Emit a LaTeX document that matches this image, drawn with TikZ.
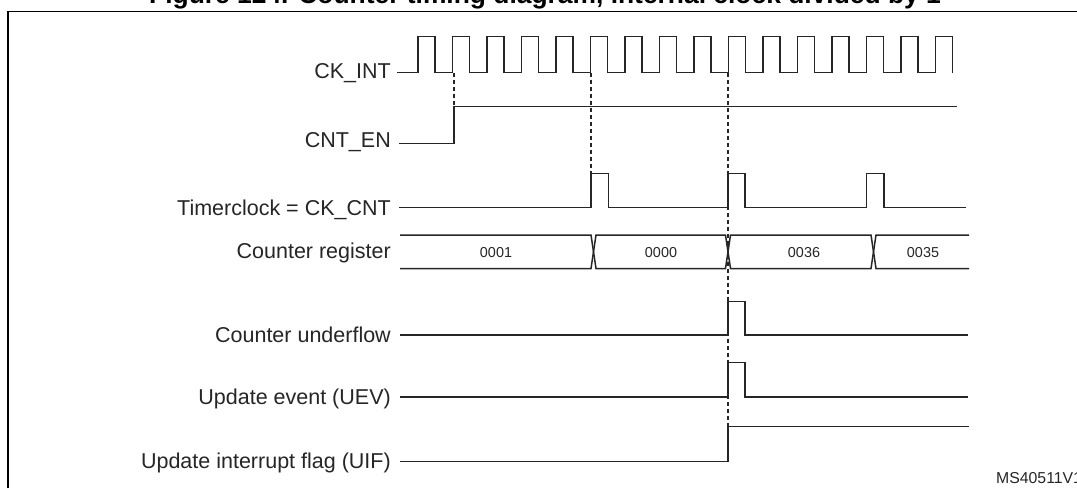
\documentclass[tikz,border=0pt]{standalone}
\usepackage{fontspec}
\setmainfont{Liberation Sans}
\begin{document}
\begin{tikzpicture}[x=1pt,y=-1pt,
  sig/.style={line width=1.5pt,line join=miter,black!85},
  guide/.style={line width=1.2pt,dash pattern=on 4.5pt off 2.5pt,black!85},
  frameline/.style={line width=1.8pt,black},
  lbl/.style={anchor=base east,inner sep=0pt,font=\fontsize{21.5}{25}\selectfont,text=black!85},
  val/.style={anchor=base,inner sep=0pt,font=\fontsize{14.4}{17}\selectfont,text=black!85},
  ttl/.style={anchor=base west,inner sep=0pt,font=\fontsize{26.4}{30}\selectfont\bfseries},
  tag/.style={anchor=base west,inner sep=0pt,font=\fontsize{15.8}{18}\selectfont,text=black!85}]
\useasboundingbox (0,0) rectangle (1077,488);
\fill[white] (0,0) rectangle (1077,488);
% frame
\draw[frameline] (7.6,488) -- (7.6,11.5) -- (1077,11.5);
\node[ttl] (title) at (149,3.5) {Figure 124. Counter timing diagram, internal clock divided by 1};
% labels
\node[lbl] (lck)  at (391,78)  {CK\_INT};
\node[lbl] (len)  at (391,147) {CNT\_EN};
\node[lbl] (ltc)  at (391,215) {Timerclock = CK\_CNT};
\node[lbl] (lcr)  at (391,258.5) {Counter register};
\node[lbl] (lcu)  at (391,342) {Counter underflow};
\node[lbl] (luev) at (391,404) {Update event (UEV)};
\node[lbl] (luif) at (391,468.5) {Update interrupt flag (UIF)};
\node[tag] (ms) at (996,483) {MS40511V1};
% guides
\draw[guide] (454,72.5) -- (454,106.7);
\draw[guide] (591,72.5) -- (591,173.5);
\draw[guide] (728,72.5) -- (728,426.7);
% CK_INT
\draw[sig] (397,72.5) foreach \k in {0,...,15} { -- ({418+34.5*\k},72.5) -- ++(0,-36) -- ++(17,0) -- ++(0,36) };
% CNT_EN
\draw[sig] (399,143.3) -- (454,143.3) -- (454,106.7) -- (957,106.7);
% Timerclock
\draw[sig] (399,207.5) -- (591,207.5) -- (591,173.5) -- (608.5,173.5) -- (608.5,207.5)
  -- (728,207.5) -- (728,173.5) -- (745,173.5) -- (745,207.5)
  -- (866.5,207.5) -- (866.5,173.5) -- (884,173.5) -- (884,207.5) -- (966,207.5);
% Counter register bus
\draw[sig] (400,235) -- (591,235) -- (596,268.5) -- (725.5,268.5) -- (730.5,235) -- (871,235) -- (876,268.5) -- (969,268.5);
\draw[sig] (400,268.5) -- (591,268.5) -- (596,235) -- (725.5,235) -- (730.5,268.5) -- (871,268.5) -- (876,235) -- (969,235);
\node[val] (v1) at (496,257.3) {0001};
\node[val] (v2) at (661,257.3) {0000};
\node[val] (v3) at (804,257.3) {0036};
\node[val] (v4) at (923,257.3) {0035};
% Counter underflow
\draw[sig] (400,335) -- (728,335) -- (728,301.7) -- (745,301.7) -- (745,335) -- (968,335);
% UEV
\draw[sig] (400,397) -- (728,397) -- (728,362.7) -- (745,362.7) -- (745,397) -- (968,397);
% UIF
\draw[sig] (400,461.5) -- (728,461.5) -- (728,426.7) -- (969,426.7);
\end{tikzpicture}
\end{document}
